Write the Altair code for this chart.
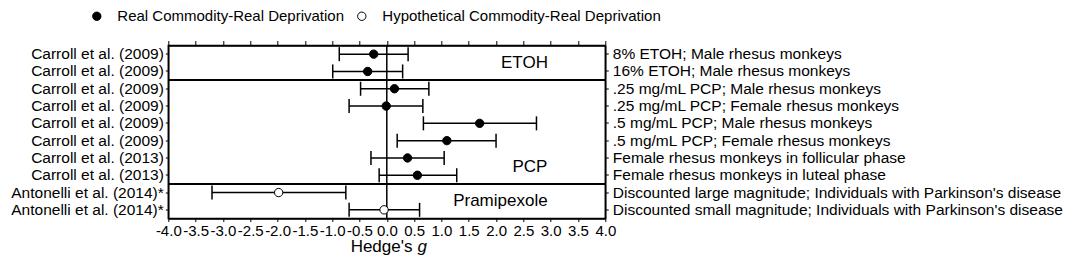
import json
import altair as alt
import pandas as pd

# ---------------- data ----------------
left_labels = [
    "Carroll et al. (2009)", "Carroll et al. (2009)", "Carroll et al. (2009)",
    "Carroll et al. (2009)", "Carroll et al. (2009)", "Carroll et al. (2009)",
    "Carroll et al. (2013)", "Carroll et al. (2013)",
    "Antonelli et al. (2014)*", "Antonelli et al. (2014)*",
]
right_labels = [
    "8% ETOH; Male rhesus monkeys",
    "16% ETOH; Male rhesus monkeys",
    ".25 mg/mL PCP; Male rhesus monkeys",
    ".25 mg/mL PCP; Female rhesus monkeys",
    ".5 mg/mL PCP; Male rhesus monkeys",
    ".5 mg/mL PCP; Female rhesus monkeys",
    "Female rhesus monkeys in follicular phase",
    "Female rhesus monkeys in luteal phase",
    "Discounted large magnitude; Individuals with Parkinson's disease",
    "Discounted small magnitude; Individuals with Parkinson's disease",
]
hedges_g = [-0.24, -0.35, 0.14, -0.01, 1.70, 1.10, 0.38, 0.56, -1.98, -0.05]
ci_low = [-0.87, -0.99, -0.48, -0.69, 0.67, 0.19, -0.29, -0.14, -3.20, -0.69]
ci_high = [0.39, 0.29, 0.77, 0.66, 2.74, 2.00, 1.05, 1.28, -0.75, 0.60]
series_names = ["Real Commodity-Real Deprivation", "Hypothetical Commodity-Real Deprivation"]
series = [series_names[0]] * 8 + [series_names[1]] * 2
x_ticks = [-4.0, -3.5, -3.0, -2.5, -2.0, -1.5, -1.0, -0.5, 0.0,
           0.5, 1.0, 1.5, 2.0, 2.5, 3.0, 3.5, 4.0]
group_names = ["ETOH", "PCP", "Pramipexole"]
group_x = [2.52, 2.62, 2.08]
group_row = [1, 7, 9]
separator_rows = [2, 8]
title_parts = ["Hedge's", "g"]
title_x = [0.47, 0.56]

# ---------------- layout ----------------
FONT = "Liberation Sans"
W, H = 437, 173

rows = list(range(len(left_labels)))
df = pd.DataFrame({"row": rows, "g": hedges_g, "lo": ci_low, "hi": ci_high,
                   "series": series})

xscale = alt.Scale(domain=[-4, 4], nice=False, zero=False)
yscale = alt.Scale(domain=rows, paddingInner=0, paddingOuter=0)

left_expr = json.dumps(left_labels) + "[datum.value]"
right_expr = json.dumps(right_labels) + "[datum.value]"
x_expr = "(datum.value < 0 ? '-' : '') + format(abs(datum.value), '.1f')"

common_axis = dict(labelFont=FONT, labelColor="black", domainColor="black",
                   tickColor="black", grid=False, title=None, domainWidth=1.5,
                   tickWidth=1, labelLimit=0)

bars = alt.Chart(df).mark_rule(color="black", strokeWidth=1.5).encode(
    x=alt.X("lo:Q", scale=xscale, axis=alt.Axis(
        orient="bottom", values=x_ticks, labelExpr=x_expr, tickSize=3,
        labelPadding=1.5, labelFontSize=15, labelOverlap=False, labelFlush=False,
        **common_axis)),
    x2="hi:Q",
    y=alt.Y("row:O", scale=yscale, axis=alt.Axis(
        orient="left", labelExpr=left_expr, tickSize=3, labelPadding=2,
        labelFontSize=15.5, labelOverlap=False, **common_axis)),
)

caps_lo = alt.Chart(df).mark_tick(color="black", thickness=1.5, size=14, opacity=1).encode(
    x=alt.X("lo:Q", scale=xscale, axis=alt.Axis(
        orient="top", values=x_ticks, labels=False, tickSize=5, **common_axis)),
    y=alt.Y("row:O", scale=yscale, axis=alt.Axis(
        orient="right", labelExpr=right_expr, tickSize=3, labelPadding=4,
        labelFontSize=15.5, labelOverlap=False, **common_axis)),
)

caps_hi = alt.Chart(df).mark_tick(color="black", thickness=1.5, size=14, opacity=1).encode(
    x=alt.X("hi:Q", scale=xscale, axis=None),
    y=alt.Y("row:O", scale=yscale, axis=None),
)

points = alt.Chart(df).mark_circle(size=70, stroke="black", strokeWidth=1, opacity=1).encode(
    x=alt.X("g:Q", scale=xscale, axis=None),
    y=alt.Y("row:O", scale=yscale, axis=None),
    fill=alt.Fill("series:N", scale=alt.Scale(domain=series_names, range=["black", "white"]),
                  legend=alt.Legend(
                      orient="none", legendX=-79, legendY=-37, direction="horizontal",
                      title=None, labelFont=FONT, labelFontSize=15, labelColor="black",
                      labelLimit=0,
                      symbolType="circle", symbolSize=70, symbolStrokeColor="black",
                      symbolStrokeWidth=1, symbolOpacity=1, labelOffset=13,
                      columnPadding=10, padding=0)),
)

zero = alt.Chart(pd.DataFrame({"z": [0.0]})).mark_rule(color="black", strokeWidth=1.5).encode(
    x=alt.X("z:Q", scale=xscale, axis=None),
)

seps = alt.Chart(pd.DataFrame({"row": separator_rows})).mark_rule(color="black", strokeWidth=2).encode(
    y=alt.Y("row:O", scale=yscale, axis=None, bandPosition=0),
)

groups = alt.Chart(pd.DataFrame({"row": group_row, "x": group_x, "name": group_names})).mark_text(
    font=FONT, fontSize=17, color="black", align="center", baseline="middle").encode(
    x=alt.X("x:Q", scale=xscale, axis=None),
    y=alt.Y("row:O", scale=yscale, axis=None, bandPosition=0),
    text="name:N",
)

title_df = pd.DataFrame({"x": title_x, "t": title_parts})
title_a = alt.Chart(title_df.iloc[[0]]).mark_text(
    font=FONT, fontSize=17, color="black", align="right", baseline="alphabetic").encode(
    x=alt.X("x:Q", scale=xscale, axis=None), y=alt.value(H + 33.5), text="t:N")
title_b = alt.Chart(title_df.iloc[[1]]).mark_text(
    font=FONT, fontSize=17, color="black", align="left", baseline="alphabetic",
    fontStyle="italic").encode(
    x=alt.X("x:Q", scale=xscale, axis=None), y=alt.value(H + 33.5), text="t:N")

chart = alt.layer(zero, seps, groups, bars, caps_lo, caps_hi, points, title_a, title_b).resolve_axis(
    x="independent", y="independent"
).properties(
    width=W, height=H,
    autosize=alt.AutoSizeParams(type="none"),
    padding={"left": 160.3, "top": 37.5, "right": 470.7, "bottom": 36.5},
    background="white",
).configure_view(stroke="black", strokeWidth=1.5)

chart.save("out.html", embed_options={"renderer": "svg", "actions": False})
